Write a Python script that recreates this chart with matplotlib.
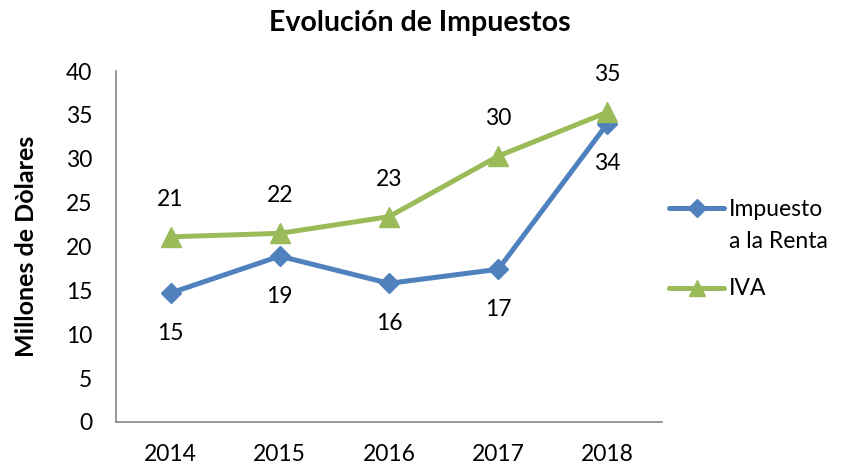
import matplotlib
matplotlib.use("Agg")
import matplotlib.pyplot as plt
from matplotlib.lines import Line2D

years = ["2014", "2015", "2016", "2017", "2018"]
renta = [14.7, 18.9, 15.8, 17.4, 34.0]
iva = [21.1, 21.5, 23.4, 30.3, 35.3]
renta_labels = ["15", "19", "16", "17", "34"]
iva_labels = ["21", "22", "23", "30", "35"]
yticks = [0, 5, 10, 15, 20, 25, 30, 35, 40]
series_names = ["Impuesto", "a la Renta", "IVA"]

plt.rcParams['font.family'] = ['Lato', 'DejaVu Sans']

blue = "#4F81BD"
green = "#9BBB59"
FS = 16.5

W, H = 850, 468
fig = plt.figure(figsize=(W/100, H/100), dpi=100)
ax = fig.add_axes([116/W, 1 - 422/H, (662-116)/W, (422-71)/H])

x = list(range(len(years)))
ax.plot(x, renta, color=blue, lw=3.6, marker='D', ms=10)
ax.plot(x, iva, color=green, lw=3.6, marker='^', ms=14)

for xi, v, t in zip(x, renta, renta_labels):
    ax.annotate(t, (xi, v), xytext=(0, -29), textcoords='offset points',
                ha='center', va='center', fontsize=FS)
for xi, v, t in zip(x, iva, iva_labels):
    ax.annotate(t, (xi, v), xytext=(0, 27), textcoords='offset points',
                ha='center', va='center', fontsize=FS)

ax.set_xlim(-0.5, 4.5)
ax.set_ylim(0, 40)
ax.set_xticks(x)
ax.set_xticklabels(years)
ax.set_yticks(yticks)
ax.tick_params(axis='both', length=0, labelsize=FS)
ax.tick_params(axis='y', pad=17)
ax.tick_params(axis='x', pad=16)
for s in ['top', 'right']:
    ax.spines[s].set_visible(False)
for s in ['left', 'bottom']:
    ax.spines[s].set_color('#868686')
    ax.spines[s].set_linewidth(1.2)

fig.text(27/W, 1 - 246/H, "Millones de Dòlares", rotation=90, ha='center', va='center',
         fontsize=18, fontweight='bold')
fig.text(420/W, 1 - 23/H, "Evolución de Impuestos", ha='center', va='center',
         fontsize=20.5, fontweight='bold')

# legend
def handle(y, color, marker, ms):
    fig.add_artist(Line2D([669/W, 724/W], [1 - y/H, 1 - y/H], transform=fig.transFigure,
                          color=color, lw=3.6, solid_capstyle='round'))
    fig.add_artist(Line2D([696.5/W], [1 - y/H], transform=fig.transFigure,
                          color=color, marker=marker, ms=ms, lw=0))

handle(208, blue, 'D', 9)
handle(288, green, '^', 12)
fig.text(729/W, 1 - 216/H, series_names[0], ha='left', va='baseline', fontsize=FS)
fig.text(729/W, 1 - 248/H, series_names[1], ha='left', va='baseline', fontsize=FS)
fig.text(729/W, 1 - 295/H, series_names[2], ha='left', va='baseline', fontsize=FS)

fig.savefig("out.png", dpi=100)
